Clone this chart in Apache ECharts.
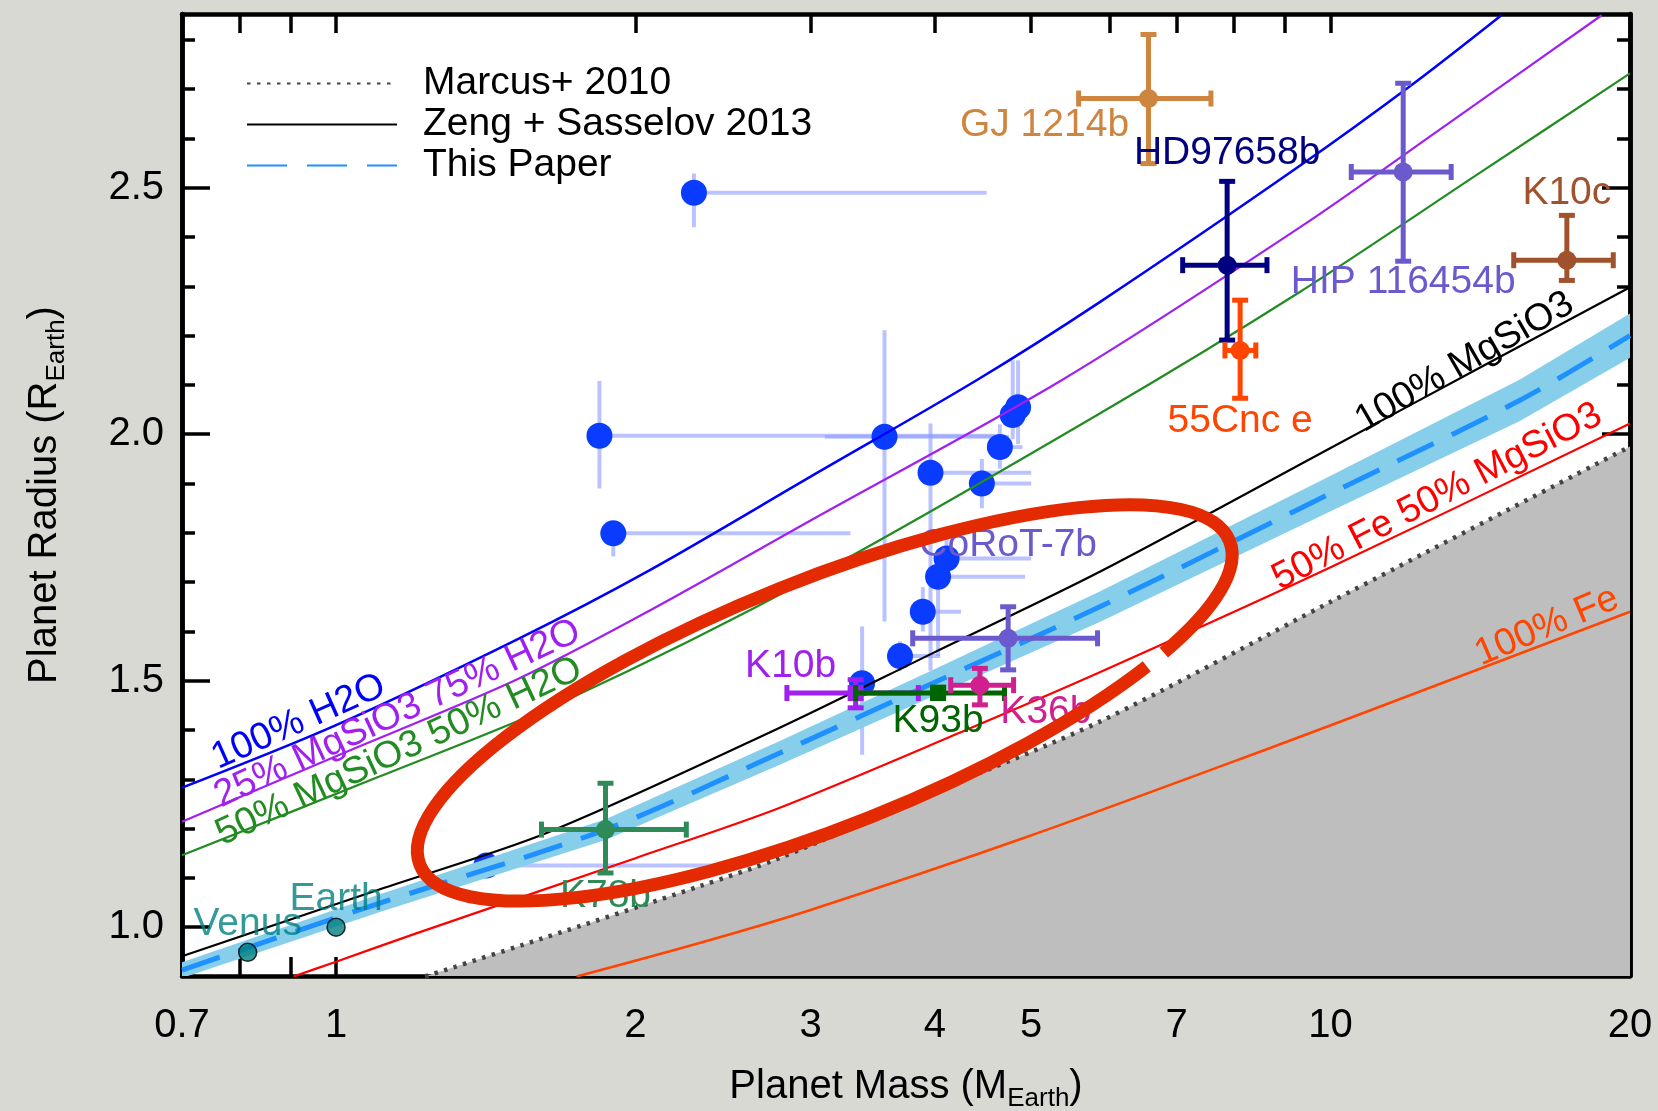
<!DOCTYPE html>
<html>
<head>
<meta charset="utf-8">
<script src="https://cdn.jsdelivr.net/npm/echarts@6/dist/echarts.min.js"></script>
<style>
  html, body { margin: 0; padding: 0; background: #d9d9d4; }
  #chart { width: 1658px; height: 1111px; }
</style>
</head>
<body>
<div id="chart"></div>
<script>
// ---- composition curves (mass in M_Earth, radius in R_Earth) ----
var h2oMass = [0.7, 1.0, 1.518, 2.07, 3.0, 4.41, 5.86, 9.32, 12.11, 14.85];
var h2oRadius = [1.283, 1.41, 1.583, 1.725, 1.914, 2.11, 2.268, 2.545, 2.711, 2.85];

var mix25Mass = [0.7, 1.0, 1.518, 2.07, 3.0, 5.37, 9.32, 13.0, 18.73];
var mix25Radius = [1.214, 1.347, 1.502, 1.643, 1.825, 2.11, 2.42, 2.624, 2.85];

var mix50Mass = [0.7, 1.107, 1.705, 3.02, 5.86, 9.32, 14.0, 20];
var mix50Radius = [1.146, 1.306, 1.461, 1.711, 2.042, 2.289, 2.525, 2.732];

var rockMass = [0.7, 1.107, 1.628, 2.79, 4.0, 5.86, 10, 14, 20];
var rockRadius = [0.941, 1.077, 1.191, 1.404, 1.558, 1.721, 1.972, 2.131, 2.298];

var paperMass = [0.7, 1.107, 1.866, 2.79, 4.0, 5.86, 10, 15.5, 20];
var paperRadius = [0.913, 1.049, 1.198, 1.353, 1.497, 1.650, 1.880, 2.069, 2.20];
var paperLow = [0.897, 1.031, 1.177, 1.329, 1.470, 1.619, 1.844, 2.027, 2.155];
var paperHigh = [0.929, 1.067, 1.219, 1.377, 1.524, 1.681, 1.916, 2.111, 2.245];

var feRockMass = [0.906, 1.0, 1.194, 2.0, 2.79, 4.3, 5.86, 10, 20];
var feRockRadius = [0.9, 0.93, 0.985, 1.14, 1.242, 1.40, 1.517, 1.73, 2.022];

var ironMass = [1.745, 2.32, 3.0, 4.98, 8.6, 12.0, 20];
var ironRadius = [0.9, 0.968, 1.035, 1.185, 1.36, 1.47, 1.64];

var marcusMass = [1.229, 1.6, 2.32, 2.79, 4.0, 5.86, 10, 20];
var marcusRadius = [0.9, 0.975, 1.083, 1.14, 1.275, 1.417, 1.66, 1.975];

// ---- Kepler sample (blue points) ----
var keplerMass = [2.29, 1.84, 1.90, 3.56, 3.96, 4.46, 4.65, 4.79, 4.85, 4.11, 4.03, 3.89, 3.69, 3.38, 1.416];
var keplerRadius = [2.490, 1.997, 1.799, 1.995, 1.922, 1.900, 1.974, 2.039, 2.055, 1.748, 1.711, 1.640, 1.550, 1.495, 1.125];
var keplerMassLow = [2.29, 1.84, 1.90, 3.10, 3.96, 4.35, 4.60, 4.79, 4.85, 4.11, 4.03, 3.89, 3.69, 3.38, 1.416];
var keplerMassHigh = [4.51, 4.60, 3.29, 4.75, 5.00, 5.00, 4.90, 4.95, 4.95, 5.00, 4.93, 4.25, 4.05, 3.38, 2.45];
var keplerRadiusLow = [2.42, 1.890, 1.752, 1.62, 1.52, 1.85, 1.93, 1.99, 1.98, 1.70, 1.55, 1.60, 1.52, 1.35, 1.115];
var keplerRadiusHigh = [2.529, 2.108, 1.80, 2.211, 2.022, 1.95, 2.02, 2.15, 2.15, 1.80, 1.75, 1.69, 1.58, 1.61, 1.135];

// ---- named planets ----
var planetNames = ['GJ 1214b', 'HD97658b', 'HIP 116454b', 'K10c', '55Cnc e', 'CoRoT-7b', 'K10b', 'K93b', 'K36b', 'K78b'];
var planetMass = [6.56, 7.87, 11.83, 17.28, 8.11, 4.74, 3.33, 4.03, 4.44, 1.866];
var planetRadius = [2.681, 2.343, 2.532, 2.353, 2.170, 1.586, 1.475, 1.475, 1.491, 1.198];
var planetMassLow = [5.58, 7.10, 10.49, 15.28, 7.83, 3.80, 2.84, 3.33, 4.15, 1.609];
var planetMassHigh = [7.58, 8.63, 13.22, 19.24, 8.41, 5.83, 3.85, 4.70, 4.80, 2.25];
var planetRadiusLow = [2.549, 2.191, 2.351, 2.312, 2.073, 1.522, 1.445, 1.465, 1.451, 1.110];
var planetRadiusHigh = [2.811, 2.513, 2.712, 2.444, 2.272, 1.650, 1.502, 1.487, 1.525, 1.292];

var solarNames = ['Venus', 'Earth'];
var solarMass = [0.815, 1.0];
var solarRadius = [0.949, 1.0];

// ---- axis ticks ----
var massTicks = [0.8, 0.9, 1, 2, 3, 4, 5, 6, 7, 8, 9, 10];
var massLabels = [0.7, 1, 2, 3, 4, 5, 7, 10, 20];
var radiusMajor = [1.0, 1.5, 2.0, 2.5];
var radiusMinor = [1.1, 1.2, 1.3, 1.4, 1.6, 1.7, 1.8, 1.9, 2.1, 2.2, 2.3, 2.4, 2.6, 2.7, 2.8];

var FONT = '"Liberation Sans", Arial, Helvetica, sans-serif';

// label placement / colours (pixel offsets from the point)
var planetStyle = {
  'GJ 1214b':    { color: '#cd853f', dx: -104, dy: 27, symbol: 'circle' },
  'HD97658b':    { color: '#000080', dx: 0, dy: -112, symbol: 'circle' },
  'HIP 116454b': { color: '#6a5acd', dx: 0, dy: 110, symbol: 'circle' },
  'K10c':        { color: '#a0522d', dx: 0, dy: -67, symbol: 'circle' },
  '55Cnc e':     { color: '#ff4500', dx: 0, dy: 71, symbol: 'circle' },
  'CoRoT-7b':    { color: '#6a5acd', dx: 0, dy: -93, symbol: 'circle' },
  'K10b':        { color: '#a020f0', dx: -65, dy: -27, symbol: 'square' },
  'K93b':        { color: '#006400', dx: 0, dy: 28, symbol: 'square' },
  'K36b':        { color: '#d02090', dx: 66, dy: 27, symbol: 'circle' },
  'K78b':        { color: '#2e8b57', dx: 0, dy: 67, symbol: 'circle' }
};

var curveLabels = [
  { text: '100% H2O', m: 0.917, r: 1.4165, angle: 24, color: '#0000ff' },
  { text: '25% MgSiO3 75% H2O', m: 1.153, r: 1.433, angle: 25, color: '#a020f0' },
  { text: '50% MgSiO3 50% H2O', m: 1.157, r: 1.356, angle: 25, color: '#228b22' },
  { text: '100% MgSiO3', m: 13.64, r: 2.146, angle: 30, color: '#000000' },
  { text: '50% Fe 50% MgSiO3', m: 12.8, r: 1.873, angle: 27.4, color: '#ff0000' },
  { text: '100% Fe', m: 16.5, r: 1.610, angle: 23, color: '#ff4500' }
];

function pairs(xs, ys) {
  return xs.map(function (x, i) { return [x, ys[i]]; });
}

function curve(name, xs, ys, color, width, z) {
  return {
    name: name,
    type: 'line',
    data: pairs(xs, ys),
    smooth: 0.3,
    symbol: 'none',
    z: z || 4,
    lineStyle: { color: color, width: width },
    silent: true
  };
}

function line(x1, y1, x2, y2, stroke, w) {
  return { type: 'line', shape: { x1: x1, y1: y1, x2: x2, y2: y2 }, style: { stroke: stroke, lineWidth: w } };
}

function renderErrorCross(api, color, lw, cap) {
  var c = api.coord([api.value(0), api.value(1)]);
  var l = api.coord([api.value(2), api.value(1)]);
  var r = api.coord([api.value(3), api.value(1)]);
  var lo = api.coord([api.value(0), api.value(4)]);
  var hi = api.coord([api.value(0), api.value(5)]);
  var out = [
    line(l[0], c[1], r[0], c[1], color, lw),
    line(c[0], lo[1], c[0], hi[1], color, lw)
  ];
  if (cap) {
    out.push(line(l[0], c[1] - cap, l[0], c[1] + cap, color, lw));
    out.push(line(r[0], c[1] - cap, r[0], c[1] + cap, color, lw));
    out.push(line(c[0] - cap, lo[1], c[0] + cap, lo[1], color, lw));
    out.push(line(c[0] - cap, hi[1], c[0] + cap, hi[1], color, lw));
  }
  return { c: c, children: out };
}

var keplerData = keplerMass.map(function (m, i) {
  return [m, keplerRadius[i], keplerMassLow[i], keplerMassHigh[i], keplerRadiusLow[i], keplerRadiusHigh[i]];
});
var planetData = planetMass.map(function (m, i) {
  return [m, planetRadius[i], planetMassLow[i], planetMassHigh[i], planetRadiusLow[i], planetRadiusHigh[i], i];
});

function yAxisCfg(pos, ticks, len, labels) {
  return {
    type: 'value', position: pos, min: 0.901, max: 2.8525,
    axisLine: { show: true, onZero: false, lineStyle: { color: '#000', width: 4.5 } },
    axisTick: { show: true, inside: true, length: len, customValues: ticks, lineStyle: { color: '#000', width: 3.5 } },
    axisLabel: labels ? {
      show: true, customValues: labels, margin: 18, fontSize: 40, color: '#000', fontFamily: FONT,
      formatter: function (v) { return v.toFixed(1); }
    } : { show: false },
    splitLine: { show: false }
  };
}

function xAxisCfg(pos, labels) {
  return {
    type: 'log', logBase: 10, position: pos, min: 0.7, max: 20,
    axisLine: { show: true, onZero: false, lineStyle: { color: '#000', width: 4.5 } },
    axisTick: { show: true, inside: true, length: 19, customValues: massTicks, lineStyle: { color: '#000', width: 3.5 } },
    axisLabel: labels ? {
      show: true, customValues: massLabels, margin: 30, fontSize: 40, color: '#000', fontFamily: FONT,
      formatter: function (v) { return String(v); }
    } : { show: false },
    splitLine: { show: false },
    minorTick: { show: false }
  };
}

var chart = echarts.init(document.getElementById('chart'));

var xMain = xAxisCfg('bottom', true);
xMain.name = '{a|Planet Mass (M}{b|Earth}{a|)}';
xMain.nameLocation = 'middle';
xMain.nameGap = 86;
xMain.nameTextStyle = {
  rich: {
    a: { fontSize: 40, fontFamily: FONT, color: '#000', lineHeight: 50 },
    b: { fontSize: 26, fontFamily: FONT, color: '#000', lineHeight: 50, verticalAlign: 'bottom' }
  }
};

var yMain = yAxisCfg('left', radiusMajor, 28, radiusMajor);
yMain.name = '{a|Planet Radius (R}{b|Earth}{a|)}';
yMain.nameLocation = 'middle';
yMain.nameRotate = 90;
yMain.nameGap = 112;
yMain.nameTextStyle = xMain.nameTextStyle;

var option = {
  backgroundColor: '#d9d9d4',
  animation: false,
  grid: {
    left: 182, top: 14, width: 1448, height: 962,
    outerBoundsMode: 'none', containLabel: false,
    show: true, backgroundColor: '#ffffff', borderWidth: 0
  },
  xAxis: [xMain, xAxisCfg('top', false)],
  yAxis: [
    yMain,
    yAxisCfg('left', radiusMinor, 13, null),
    yAxisCfg('right', radiusMajor, 28, null),
    yAxisCfg('right', radiusMinor, 13, null)
  ],
  legend: {
    orient: 'vertical', left: 241, top: 59,
    itemWidth: 150, itemHeight: 14, itemGap: 2,
    selectedMode: false,
    itemStyle: { opacity: 0 },
    data: ['Marcus+ 2010', 'Zeng + Sasselov 2013', 'This Paper'],
    textStyle: { fontSize: 39, lineHeight: 38, color: '#000', fontFamily: FONT, padding: [0, 0, 0, 21] }
  },
  series: [
    // Kepler error bars and dots sit underneath the curves
    {
      type: 'custom', z: 2, silent: true, data: keplerData,
      renderItem: function (params, api) {
        var e = renderErrorCross(api, 'rgba(140,155,255,0.6)', 4, 0);
        return { type: 'group', children: e.children };
      }
    },
    {
      type: 'scatter', z: 2, silent: true, data: pairs(keplerMass, keplerRadius),
      symbolSize: 26, itemStyle: { color: '#0a3cff', opacity: 1 }
    },
    {
      name: 'Marcus+ 2010', type: 'line', z: 3, silent: true, data: pairs(marcusMass, marcusRadius),
      smooth: 0.3, symbol: 'none',
      lineStyle: { color: '#444444', width: 4.5, type: [3.5, 6.5] },
      areaStyle: { color: '#bebebe', opacity: 1, origin: 'start' }
    },
    curve('100% Fe', ironMass, ironRadius, '#ff4500', 2.5),
    curve('50% Fe', feRockMass, feRockRadius, '#ff0000', 2.2),
    {
      type: 'custom', z: 4, silent: true, clip: true, data: [[paperMass[0], paperRadius[0]]],
      renderItem: function (params, api) {
        var pts = [];
        for (var i = 0; i < paperMass.length; i++) pts.push(api.coord([paperMass[i], paperHigh[i]]));
        for (var j = paperMass.length - 1; j >= 0; j--) pts.push(api.coord([paperMass[j], paperLow[j]]));
        return { type: 'polygon', shape: { points: pts }, style: { fill: '#87ceeb' } };
      }
    },
    {
      name: 'This Paper', type: 'line', z: 5, silent: true, data: pairs(paperMass, paperRadius),
      smooth: 0.3, symbol: 'none',
      lineStyle: { color: '#1e90ff', width: 5, type: [40, 20] }
    },
    curve('Zeng + Sasselov 2013', rockMass, rockRadius, '#000000', 2.2, 5),
    curve('50% H2O', mix50Mass, mix50Radius, '#228b22', 2.2, 5),
    curve('75% H2O', mix25Mass, mix25Radius, '#a020f0', 2.2, 5),
    curve('100% H2O', h2oMass, h2oRadius, '#0000ff', 2.5, 5),
    // curve labels
    {
      type: 'custom', z: 6, silent: true,
      data: curveLabels.map(function (d, i) { return [d.m, d.r, i]; }),
      renderItem: function (params, api) {
        var d = curveLabels[api.value(2)];
        var p = api.coord([api.value(0), api.value(1)]);
        return {
          type: 'text', x: p[0], y: p[1], rotation: d.angle * Math.PI / 180,
          style: { text: d.text, fill: d.color, font: '38px ' + FONT, align: 'center', verticalAlign: 'middle' }
        };
      }
    },
    // named planets with error bars
    {
      type: 'custom', z: 7, silent: true, data: planetData,
      renderItem: function (params, api) {
        var name = planetNames[api.value(6)];
        var st = planetStyle[name];
        var e = renderErrorCross(api, st.color, 5, 8);
        var c = e.c;
        var kids = e.children;
        if (st.symbol === 'square') {
          kids.push({ type: 'rect', shape: { x: c[0] - 8, y: c[1] - 8, width: 16, height: 16 }, style: { fill: st.color } });
        } else {
          kids.push({ type: 'circle', shape: { cx: c[0], cy: c[1], r: 9.5 }, style: { fill: st.color } });
        }
        kids.push({
          type: 'text', x: c[0] + st.dx, y: c[1] + st.dy,
          style: { text: name, fill: st.color, font: '39px ' + FONT, align: 'center', verticalAlign: 'middle' }
        });
        return { type: 'group', children: kids };
      }
    },
    {
      type: 'scatter', z: 7, silent: true,
      data: solarNames.map(function (n, i) { return { name: n, value: [solarMass[i], solarRadius[i]] }; }),
      symbolSize: 18,
      itemStyle: { color: '#008080', borderColor: '#000', borderWidth: 1.5 },
      label: {
        show: true, position: 'inside', offset: [0, -28], formatter: '{b}',
        color: '#008080', fontSize: 39, fontFamily: FONT
      }
    },
    // hand drawn highlight ellipse (with the small break at lower right)
    {
      type: 'custom', z: 9, silent: true, data: [[3.10, 1.455]],
      renderItem: function (params, api) {
        var p = api.coord([api.value(0), api.value(1)]);
        return {
          type: 'ellipse', x: p[0], y: p[1], rotation: 21.8 * Math.PI / 180,
          shape: { cx: 0, cy: 0, rx: 436, ry: 123 },
          style: { fill: null, stroke: '#e32a00', lineWidth: 13, lineDash: [1085, 22, 3000] }
        };
      }
    }
  ]
};

chart.setOption(option);
</script>
</body>
</html>
